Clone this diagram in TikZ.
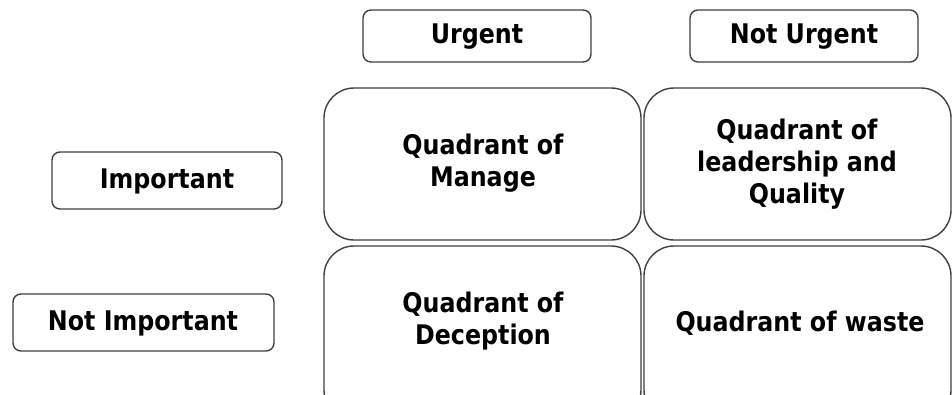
\documentclass[tikz,border=0pt]{standalone}
\usepackage{fontspec}
\setmainfont[FakeStretch=0.88]{DejaVu Sans}
\begin{document}
\begin{tikzpicture}[x=1pt,y=-1pt,
  label box/.style={draw=black!75, line width=1.4pt, rounded corners=8pt, fill=white},
  quad box/.style={draw=black!75, line width=1.4pt, rounded corners=30pt, fill=white},
  txt/.style={align=center, font=\bfseries\fontsize{27}{32}\selectfont, text=black}]
\useasboundingbox (0,0) rectangle (952,394);
% column headers
\draw[label box] (363,10) rectangle (591,62);
\node[txt] (urgent) at (477,37) {Urgent};
\draw[label box] (690,10) rectangle (918,62);
\node[txt] (noturgent) at (804,37) {Not Urgent};
% row headers
\draw[label box] (52,152) rectangle (282,209);
\node[txt] (important) at (167,181) {Important};
\draw[label box] (13,294) rectangle (274,351);
\node[txt] (notimportant) at (143,323) {Not Important};
% quadrants
\draw[quad box] (324,88) rectangle (641,240);
\node[txt] (q1) at (483,163) {Quadrant of\\Manage};
\draw[quad box] (644,88) rectangle (951,240);
\node[txt] (q2) at (797,164) {Quadrant of\\leadership and\\Quality};
\draw[quad box] (324,246) rectangle (641,420);
\node[txt] (q3) at (483,321) {Quadrant of\\Deception};
\draw[quad box] (644,246) rectangle (951,420);
\node[txt] (q4) at (800,323) {Quadrant of waste};
\end{tikzpicture}
\end{document}
